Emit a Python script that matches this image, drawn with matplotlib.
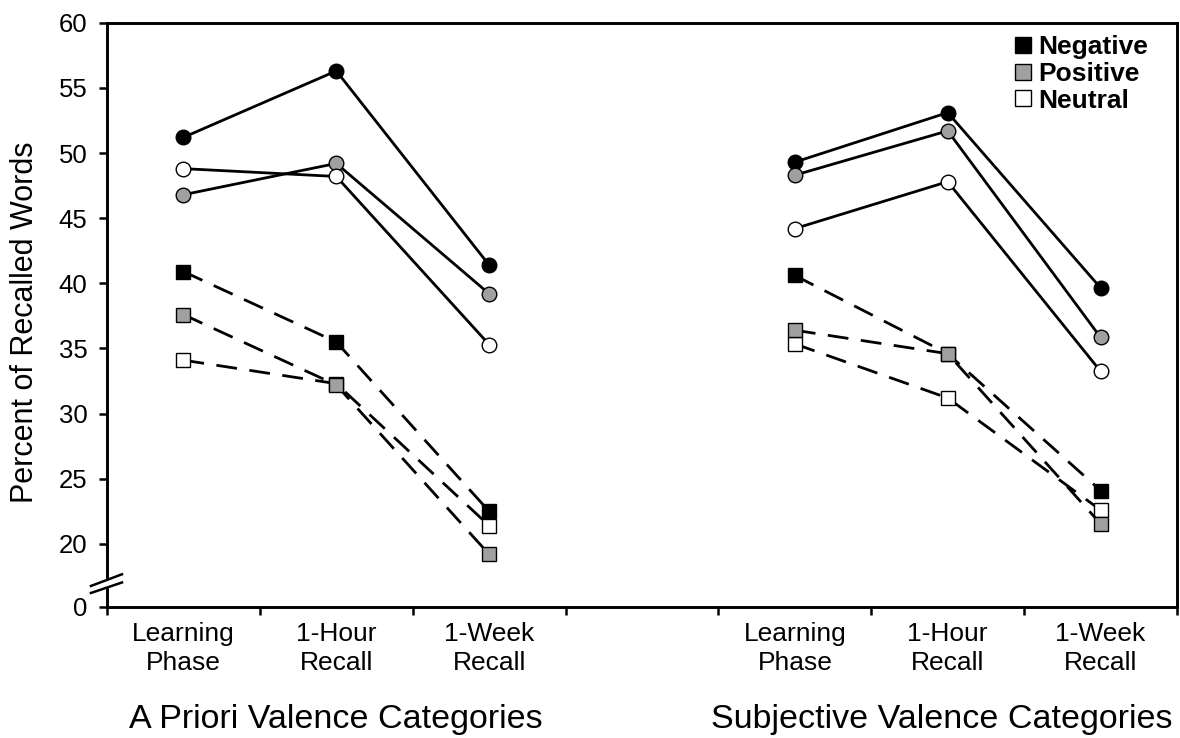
import numpy as np
import matplotlib
matplotlib.use("Agg")
import matplotlib.pyplot as plt
import matplotlib.transforms as mtransforms
from matplotlib.lines import Line2D
from matplotlib.patches import Polygon

plt.rcParams['font.family'] = ['Liberation Sans', 'DejaVu Sans']
plt.rcParams['lines.scale_dashes'] = False

# ---------------- data ----------------
phases = ["Learning\nPhase", "1-Hour\nRecall", "1-Week\nRecall"]
groups = ["A Priori Valence Categories", "Subjective Valence Categories"]
valences = ["Negative", "Positive", "Neutral"]

# solid lines (circles)
apriori_circle_neg = [51.2, 56.3, 41.4]
apriori_circle_pos = [46.8, 49.2, 39.2]
apriori_circle_neu = [48.8, 48.2, 35.3]
subjective_circle_neg = [49.3, 53.1, 39.65]
subjective_circle_pos = [48.3, 51.7, 35.85]
subjective_circle_neu = [44.2, 47.8, 33.25]

# dashed lines (squares)
apriori_square_neg = [40.9, 35.5, 22.5]
apriori_square_pos = [37.6, 32.2, 19.2]
apriori_square_neu = [34.1, 32.3, 21.4]
subjective_square_neg = [40.6, 34.6, 24.1]
subjective_square_pos = [36.4, 34.6, 21.55]
subjective_square_neu = [35.35, 31.2, 22.6]

y_ticks = [0, 20, 25, 30, 35, 40, 45, 50, 55, 60]
y_tick_labels = ["0", "20", "25", "30", "35", "40", "45", "50", "55", "60"]

# ---------------- styles ----------------
fill = {"Negative": "black", "Positive": "#a0a0a0", "Neutral": "white"}
circle_z = {"Negative": 3, "Positive": 4, "Neutral": 5}
square_z = {"Negative": 3, "Neutral": 4, "Positive": 5}

# broken axis: 0..BREAK compressed into a short span at the bottom
BREAK = 17.2
FLOOR = 15.16   # where 0 is drawn on the linear scale


def fwd(y):
    y = np.asarray(y, dtype=float)
    return np.where(y >= BREAK, y, FLOOR + y * (BREAK - FLOOR) / BREAK)


def inv(y):
    y = np.asarray(y, dtype=float)
    return np.where(y >= BREAK, y, (y - FLOOR) * BREAK / (BREAK - FLOOR))


W, H = 1180, 738
fig = plt.figure(figsize=(W / 100, H / 100), dpi=100)
ax = fig.add_axes([107 / W, 131 / H, 1070 / W, 584.3 / H])
ax.set_yscale('function', functions=(fwd, inv))

circle_data = [
    {"Negative": apriori_circle_neg, "Positive": apriori_circle_pos, "Neutral": apriori_circle_neu},
    {"Negative": subjective_circle_neg, "Positive": subjective_circle_pos, "Neutral": subjective_circle_neu},
]
square_data = [
    {"Negative": apriori_square_neg, "Positive": apriori_square_pos, "Neutral": apriori_square_neu},
    {"Negative": subjective_square_neg, "Positive": subjective_square_pos, "Neutral": subjective_square_neu},
]

slot_per_group = len(phases) + 1
for g in range(len(groups)):
    xs = np.arange(len(phases)) + g * slot_per_group + 0.5
    for v in valences:
        ax.plot(xs, circle_data[g][v], color='black', lw=2.0, marker='o', ms=10.5,
                mfc=fill[v], mec='black', mew=1.0, zorder=circle_z[v], clip_on=False)
        ln, = ax.plot(xs, square_data[g][v], color='black', lw=2.0, marker='s', ms=10.5,
                      mfc=fill[v], mec='black', mew=1.0, zorder=square_z[v], clip_on=False)
        ln.set_dashes((15, 9))

# axes limits
n_slots = len(groups) * slot_per_group - 1
ax.set_xlim(0, n_slots)
ax.set_ylim(0, 60)

# y ticks
ax.set_yticks(y_ticks)
ax.set_yticklabels(y_tick_labels)
ax.yaxis.set_minor_locator(matplotlib.ticker.NullLocator())
ax.tick_params(axis='y', direction='out', length=6, width=1.8, labelsize=18.5, pad=8)

# x ticks: labels at centers, tick marks at slot boundaries
centers = []
labels = []
for g in range(len(groups)):
    for i, p in enumerate(phases):
        centers.append(g * slot_per_group + i + 0.5)
        labels.append(p)
ax.set_xticks(centers)
ax.set_xticklabels(labels, fontsize=19, linespacing=1.25)
ax.set_xticks(np.arange(0, n_slots + 1), minor=True)
ax.tick_params(axis='x', which='major', length=0, pad=11)
ax.tick_params(axis='x', which='minor', direction='out', length=6, width=1.8)

for s in ax.spines.values():
    s.set_linewidth(2.1)

# group labels
group_shift_px = [0, -6]
for g, name in enumerate(groups):
    tr = mtransforms.offset_copy(ax.get_xaxis_transform(), fig=fig,
                                 x=group_shift_px[g], y=0, units='dots')
    ax.text(g * slot_per_group + 1.5, -0.193, name, transform=tr,
            ha='center', va='center', fontsize=24.5)

# y label
fig.text(25 / W, 1 - 322 / H, "Percent of Recalled Words", rotation=90,
         ha='center', va='center', fontsize=22)

# axis break marks
x0, x1 = -0.015, 0.014
y_a0, y_a1 = 0.024, 0.042
y_b0, y_b1 = 0.036, 0.056
ax.add_patch(Polygon([[x0 + 0.004, y_a0 + 0.002], [x1 - 0.004, y_a1 - 0.002],
                      [x1 - 0.004, y_b1 - 0.004], [x0 + 0.004, y_b0 + 0.002]],
                     closed=True, transform=ax.transAxes, facecolor='white',
                     edgecolor='none', clip_on=False, zorder=6))
ax.plot([x0, x1], [y_a0, y_a1], transform=ax.transAxes, color='black', lw=1.8,
        clip_on=False, zorder=7)
ax.plot([x0, x1], [y_b0, y_b1], transform=ax.transAxes, color='black', lw=1.8,
        clip_on=False, zorder=7)

# legend
handles = [Line2D([], [], ls='none', marker='s', ms=11, mfc=fill[v], mec='black', mew=1.0)
           for v in valences]
leg = ax.legend(handles, valences, loc='upper right', bbox_to_anchor=(0.99, 1.01),
                frameon=False, handlelength=0.7, handletextpad=0.2, labelspacing=0.1,
                prop={'weight': 'bold', 'size': 19}, borderaxespad=0.3)

fig.savefig("out.png", dpi=100, facecolor='white')
